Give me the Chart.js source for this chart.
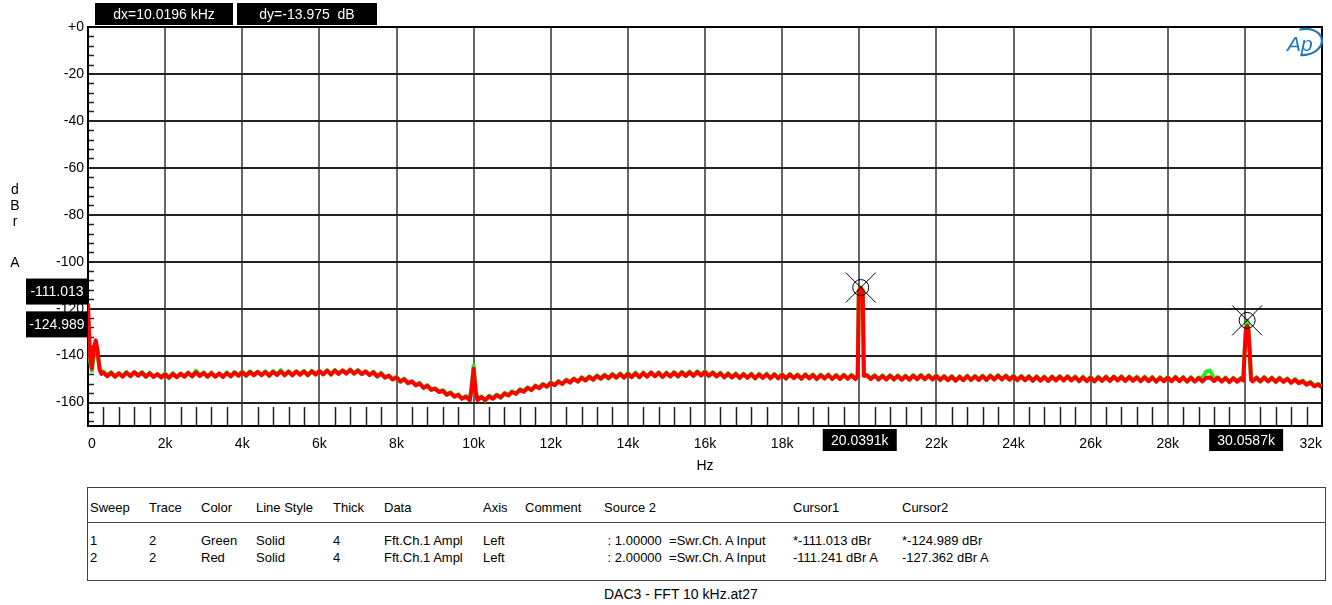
<!DOCTYPE html>
<html lang="en">
<head>
<meta charset="UTF-8" />
<title>DAC3 - FFT 10 kHz.at27</title>
<script src="https://cdn.jsdelivr.net/npm/chart.js"></script>
<style>
  body { margin: 0; background: #fff; font-family: Arial, "Liberation Sans", sans-serif; }
  #wrap { position: absolute; left: 0; top: 0; width: 1332px; height: 480px; }
  #legendBox { position: absolute; left: 87px; top: 487px; width: 1239px; height: 94px;
               border: 1px solid #444; box-sizing: border-box; }
  #legendBox .sep { position: absolute; left: 0; right: 0; top: 34px; border-top: 1px solid #444; }
  .cell { position: absolute; font-size: 13px; line-height: 15px; color: #000; white-space: pre; }
  #caption { position: absolute; left: 604px; top: 586px; font-size: 14px; line-height: 16px; white-space: pre; }
</style>
</head>
<body>

<div id="wrap"><canvas id="fftChart"></canvas></div>
<div id="legendBox"><div class="sep"></div></div>
<div id="caption">DAC3 - FFT 10 kHz.at27</div>

<script>
// frequency of each point (Hz)
const freqHz = [
  0, 50, 100, 150, 200, 250, 300, 350, 400, 500,
  600, 700, 800, 900, 1000, 1100, 1200, 1300, 1400, 1500,
  1600, 1700, 1800, 1900, 2000, 2100, 2200, 2300, 2400, 2500,
  2600, 2700, 2800, 2900, 3000, 3100, 3200, 3300, 3400, 3500,
  3600, 3700, 3800, 3900, 4000, 4100, 4200, 4300, 4400, 4500,
  4600, 4700, 4800, 4900, 5000, 5100, 5200, 5300, 5400, 5500,
  5600, 5700, 5800, 5900, 6000, 6100, 6200, 6300, 6400, 6500,
  6600, 6700, 6800, 6900, 7000, 7100, 7200, 7300, 7400, 7500,
  7600, 7700, 7800, 7900, 8000, 8100, 8200, 8300, 8400, 8500,
  8600, 8700, 8800, 8900, 9000, 9100, 9200, 9300, 9400, 9500,
  9600, 9700, 9800, 9900, 9950, 10000, 10050, 10100, 10200, 10300,
  10400, 10500, 10600, 10700, 10800, 10900, 11000, 11100, 11200, 11300,
  11400, 11500, 11600, 11700, 11800, 11900, 12000, 12100, 12200, 12300,
  12400, 12500, 12600, 12700, 12800, 12900, 13000, 13100, 13200, 13300,
  13400, 13500, 13600, 13700, 13800, 13900, 14000, 14100, 14200, 14300,
  14400, 14500, 14600, 14700, 14800, 14900, 15000, 15100, 15200, 15300,
  15400, 15500, 15600, 15700, 15800, 15900, 16000, 16100, 16200, 16300,
  16400, 16500, 16600, 16700, 16800, 16900, 17000, 17100, 17200, 17300,
  17400, 17500, 17600, 17700, 17800, 17900, 18000, 18100, 18200, 18300,
  18400, 18500, 18600, 18700, 18800, 18900, 19000, 19100, 19200, 19300,
  19400, 19500, 19600, 19700, 19800, 19900, 19960, 19990, 20039, 20090,
  20120, 20200, 20300, 20400, 20500, 20600, 20700, 20800, 20900, 21000,
  21100, 21200, 21300, 21400, 21500, 21600, 21700, 21800, 21900, 22000,
  22100, 22200, 22300, 22400, 22500, 22600, 22700, 22800, 22900, 23000,
  23100, 23200, 23300, 23400, 23500, 23600, 23700, 23800, 23900, 24000,
  24100, 24200, 24300, 24400, 24500, 24600, 24700, 24800, 24900, 25000,
  25100, 25200, 25300, 25400, 25500, 25600, 25700, 25800, 25900, 26000,
  26100, 26200, 26300, 26400, 26500, 26600, 26700, 26800, 26900, 27000,
  27100, 27200, 27300, 27400, 27500, 27600, 27700, 27800, 27900, 28000,
  28100, 28200, 28300, 28400, 28500, 28600, 28700, 28800, 28900, 29000,
  29100, 29200, 29300, 29400, 29500, 29600, 29700, 29800, 29900, 29960,
  29990, 30030, 30059, 30090, 30130, 30160, 30200, 30300, 30400, 30500,
  30600, 30700, 30800, 30900, 31000, 31100, 31200, 31300, 31400, 31500,
  31600, 31700, 31800, 31900, 32000
];

// sweep 1, green trace (dBr)
const sweep1Green = [
  -124.5, -142.0, -146.5, -140.0, -135.5, -140.0, -145.0, -146.5, -146.8, -148.5,
  -147.0, -149.1, -147.5, -148.6, -147.0, -148.9, -147.3, -148.2, -147.0, -149.1,
  -147.3, -148.8, -148.2, -149.0, -147.7, -149.6, -147.5, -148.9, -147.9, -148.7,
  -147.2, -149.0, -146.4, -148.4, -147.1, -149.1, -147.2, -148.7, -147.8, -148.8,
  -147.2, -149.0, -147.0, -148.3, -146.8, -148.7, -146.7, -148.1, -147.1, -148.1,
  -146.7, -148.7, -146.6, -148.0, -146.2, -148.5, -146.6, -148.1, -146.9, -147.9,
  -146.5, -148.5, -146.4, -147.8, -146.8, -147.7, -146.2, -148.2, -146.1, -147.5,
  -146.5, -147.4, -145.9, -147.8, -146.1, -147.6, -146.9, -148.0, -146.8, -149.0,
  -147.4, -149.1, -148.7, -149.9, -149.0, -151.2, -149.8, -151.5, -151.2, -152.4,
  -151.6, -153.9, -152.6, -154.3, -154.2, -155.2, -154.7, -156.8, -155.6, -157.2,
  -156.5, -158.5, -157.2, -158.8, -153.0, -144.2, -154.0, -158.7, -157.4, -159.2,
  -157.1, -158.1, -156.6, -158.0, -155.9, -156.7, -155.2, -156.4, -154.3, -155.1,
  -153.5, -154.8, -152.7, -153.6, -152.0, -153.4, -151.4, -152.3, -150.8, -152.2,
  -150.2, -151.2, -149.7, -151.2, -149.2, -150.3, -148.8, -150.4, -148.4, -149.6,
  -148.1, -149.8, -147.8, -149.1, -147.6, -149.5, -147.5, -148.9, -147.3, -149.3,
  -147.2, -148.7, -147.4, -148.5, -147.1, -149.2, -147.2, -148.6, -147.0, -149.0,
  -146.9, -148.4, -146.8, -148.8, -146.7, -148.2, -146.7, -148.8, -147.0, -148.6,
  -147.3, -149.4, -147.5, -149.0, -147.6, -149.6, -147.7, -149.2, -147.7, -149.8,
  -147.8, -149.2, -147.7, -149.8, -147.8, -149.4, -147.9, -149.9, -147.8, -149.3,
  -148.0, -150.0, -147.9, -149.4, -148.0, -150.1, -148.1, -149.5, -148.0, -150.1,
  -148.2, -149.7, -148.1, -150.0, -148.2, -149.7, -148.2, -112.2, -111.0, -112.2,
  -148.3, -148.2, -149.7, -148.3, -150.3, -148.4, -149.9, -148.3, -150.3, -148.4,
  -150.0, -148.5, -150.4, -148.3, -149.8, -148.2, -150.2, -148.3, -149.9, -148.4,
  -150.5, -148.6, -150.2, -148.7, -150.8, -148.8, -150.2, -148.5, -150.5, -148.6,
  -150.1, -148.5, -150.5, -148.4, -149.9, -148.3, -150.3, -148.4, -150.0, -148.5,
  -150.6, -148.6, -150.2, -148.7, -150.8, -148.8, -150.4, -148.9, -150.9, -148.8,
  -150.3, -148.7, -150.7, -148.7, -150.3, -148.9, -151.0, -149.0, -150.6, -149.1,
  -151.1, -149.0, -150.5, -148.9, -150.9, -148.8, -150.3, -148.8, -150.9, -148.9,
  -150.4, -149.0, -151.0, -149.0, -150.6, -149.1, -151.2, -149.2, -150.6, -149.1,
  -151.0, -149.0, -150.6, -149.1, -151.2, -149.2, -150.8, -149.3, -149.5, -146.8,
  -146.4, -149.8, -149.2, -150.8, -149.3, -151.4, -149.4, -150.8, -149.5, -150.3,
  -138.5, -127.0, -125.0, -127.0, -138.5, -149.9, -150.7, -149.2, -151.1, -149.1,
  -150.7, -149.3, -151.3, -149.4, -150.9, -149.7, -151.7, -150.0, -151.5, -150.6,
  -152.1, -151.2, -152.8, -152.0, -153.2
];

// sweep 2, red trace (dBr A)
const sweep2Red = [
  -117.8, -140.0, -145.5, -137.0, -133.5, -138.0, -146.0, -147.8, -147.2, -148.8,
  -147.4, -148.9, -147.6, -149.0, -147.3, -148.7, -147.0, -148.6, -147.3, -148.9,
  -147.6, -149.1, -147.9, -149.3, -148.0, -149.4, -147.8, -149.2, -147.7, -149.0,
  -147.4, -148.8, -147.1, -148.7, -147.4, -148.9, -147.5, -149.0, -147.6, -149.1,
  -147.5, -148.8, -147.2, -148.6, -147.1, -148.5, -147.0, -148.4, -146.9, -148.4,
  -147.0, -148.5, -146.9, -148.3, -146.8, -148.3, -146.9, -148.4, -146.7, -148.2,
  -146.8, -148.3, -146.7, -148.1, -146.6, -148.0, -146.5, -148.0, -146.4, -147.8,
  -146.3, -147.7, -146.1, -147.6, -146.4, -147.9, -146.7, -148.3, -147.1, -148.8,
  -147.7, -149.4, -148.5, -150.2, -149.3, -151.0, -150.1, -151.8, -151.0, -152.7,
  -151.9, -153.7, -152.9, -154.6, -154.0, -155.5, -155.0, -156.6, -155.9, -157.5,
  -156.8, -158.3, -157.5, -159.1, -154.0, -145.6, -155.0, -159.0, -157.7, -159.0,
  -157.4, -158.4, -156.9, -157.8, -156.2, -157.0, -155.5, -156.2, -154.6, -155.4,
  -153.8, -154.6, -153.0, -153.9, -152.3, -153.2, -151.7, -152.6, -151.1, -152.0,
  -150.5, -151.5, -150.0, -151.0, -149.5, -150.6, -149.1, -150.2, -148.7, -149.9,
  -148.4, -149.6, -148.1, -149.4, -147.9, -149.3, -147.8, -149.2, -147.6, -149.1,
  -147.5, -149.0, -147.2, -148.8, -147.4, -149.0, -147.5, -148.9, -147.3, -148.8,
  -147.2, -148.7, -147.1, -148.6, -147.0, -148.5, -147.0, -148.6, -147.3, -148.9,
  -147.6, -149.2, -147.8, -149.3, -147.9, -149.4, -148.0, -149.5, -148.0, -149.6,
  -148.1, -149.5, -148.0, -149.6, -148.1, -149.7, -148.2, -149.7, -148.1, -149.6,
  -148.3, -149.8, -148.2, -149.7, -148.3, -149.9, -148.4, -149.8, -148.3, -149.9,
  -148.5, -150.0, -148.4, -149.8, -148.5, -150.0, -148.5, -112.5, -111.2, -112.5,
  -148.6, -148.5, -150.0, -148.6, -150.1, -148.7, -150.2, -148.6, -150.1, -148.7,
  -150.3, -148.8, -150.2, -148.6, -150.1, -148.5, -150.0, -148.6, -150.2, -148.7,
  -150.3, -148.9, -150.5, -149.0, -150.6, -149.1, -150.5, -148.8, -150.3, -148.9,
  -150.4, -148.8, -150.3, -148.7, -150.2, -148.6, -150.1, -148.7, -150.3, -148.8,
  -150.4, -148.9, -150.5, -149.0, -150.6, -149.1, -150.7, -149.2, -150.7, -149.1,
  -150.6, -149.0, -150.5, -149.0, -150.6, -149.2, -150.8, -149.3, -150.9, -149.4,
  -150.9, -149.3, -150.8, -149.2, -150.7, -149.1, -150.6, -149.1, -150.7, -149.2,
  -150.7, -149.3, -150.8, -149.3, -150.9, -149.4, -151.0, -149.5, -150.9, -149.4,
  -150.8, -149.3, -150.9, -149.4, -151.0, -149.5, -151.1, -149.6, -151.0, -149.4,
  -149.3, -150.8, -149.5, -151.1, -149.6, -151.2, -149.7, -151.1, -149.8, -150.6,
  -140.0, -129.0, -127.4, -129.0, -140.0, -150.3, -151.0, -149.5, -150.9, -149.4,
  -151.0, -149.6, -151.1, -149.7, -151.2, -150.0, -151.5, -150.3, -151.8, -150.9,
  -152.4, -151.5, -153.1, -152.3, -153.5
];

const xTickValues = [0, 2000, 4000, 6000, 8000, 10000, 12000, 14000, 16000,
                     18000, 20000, 22000, 24000, 26000, 28000, 30000, 32000];
const yTickValues = [0, -20, -40, -60, -80, -100, -120, -140, -160];

// cursors
const cursorHz = [20039.1, 30058.7];
const cursorDb = [-111.013, -124.989];
const cursorHzText = ['20.0391k', '30.0587k'];
const cursorDbText = ['-111.013', '-124.989'];
const deltaText = ['dx=10.0196 kHz', 'dy=-13.975  dB'];

// legend table
const tableHeader = ['Sweep', 'Trace', 'Color', 'Line Style', 'Thick', 'Data', 'Axis', 'Comment', 'Source 2', 'Cursor1', 'Cursor2'];
const tableRows = [
  ['1', '2', 'Green', 'Solid', '4', 'Fft.Ch.1 Ampl', 'Left', '', ' : 1.00000  =Swr.Ch. A Input', '*-111.013 dBr', '*-124.989 dBr'],
  ['2', '2', 'Red', 'Solid', '4', 'Fft.Ch.1 Ampl', 'Left', '', ' : 2.00000  =Swr.Ch. A Input', '-111.241 dBr A', '-127.362 dBr A']
];

const FONT = 'Arial, "Liberation Sans", sans-serif';

// build legend table
const colLeft = [90, 149, 201, 256, 333, 384, 483, 525, 604, 793, 902];
const rowTop = [500, 533, 550];
function addCell(text, left, top) {
  const d = document.createElement('div');
  d.className = 'cell';
  d.style.left = left + 'px';
  d.style.top = top + 'px';
  d.textContent = text;
  document.body.appendChild(d);
}
tableHeader.forEach((t, i) => addCell(t, colLeft[i], rowTop[0]));
tableRows.forEach((row, r) => row.forEach((t, i) => addCell(t, colLeft[i], rowTop[r + 1])));

const decor = {
  id: 'decor',
  beforeDatasetsDraw(chart) {
    const { ctx, chartArea: a, scales: { x, y } } = chart;
    ctx.save();
    // minor ticks
    ctx.strokeStyle = '#222';
    ctx.lineWidth = 1.5;
    ctx.beginPath();
    for (let v = -4; v > -170; v -= 4) {
      if (v % 20 === 0) continue;
      const py = Math.round(y.getPixelForValue(v)) + 0.5;
      ctx.moveTo(a.left, py);
      ctx.lineTo(a.left + 6, py);
    }
    for (let f = 400; f < 32000; f += 400) {
      if (f % 2000 === 0) continue;
      const px = Math.round(x.getPixelForValue(f)) + 0.5;
      ctx.moveTo(px, a.bottom);
      ctx.lineTo(px, a.bottom - 19);
    }
    ctx.stroke();
    // frame
    ctx.strokeStyle = '#000';
    ctx.lineWidth = 2;
    ctx.strokeRect(a.left, a.top, a.right - a.left, a.bottom - a.top);
    ctx.restore();
  },
  afterDraw(chart) {
    const { ctx, chartArea: a, scales: { x, y } } = chart;
    ctx.save();

    // cursor markers
    ctx.strokeStyle = '#000';
    ctx.lineWidth = 1;
    cursorHz.forEach((f, i) => {
      const px = x.getPixelForValue(f);
      const py = y.getPixelForValue(cursorDb[i]);
      ctx.beginPath();
      ctx.arc(px, py, 8, 0, Math.PI * 2);
      ctx.moveTo(px - 15, py - 15); ctx.lineTo(px + 15, py + 15);
      ctx.moveTo(px + 15, py - 15); ctx.lineTo(px - 15, py + 15);
      ctx.stroke();
    });

    function box(cx, cy, w, h, text) {
      ctx.fillStyle = '#000';
      ctx.fillRect(cx - w / 2, cy - h / 2, w, h);
      ctx.fillStyle = '#fff';
      ctx.textAlign = 'center';
      ctx.textBaseline = 'middle';
      ctx.fillText(text, cx, cy + 1);
    }
    ctx.font = '14px ' + FONT;
    cursorHz.forEach((f, i) => {
      box(x.getPixelForValue(f) - 1, a.bottom + 14, 74, 22, cursorHzText[i]);
      box(a.left - 31, y.getPixelForValue(cursorDb[i]) + 4, 62, 26, cursorDbText[i]);
    });
    box(164, 14, 138, 22, deltaText[0]);
    box(307, 14, 140, 22, deltaText[1]);

    // vertical axis title
    ctx.fillStyle = '#000';
    ctx.textAlign = 'center';
    ctx.textBaseline = 'middle';
    [['d', 190], ['B', 206], ['r', 222], ['A', 263]].forEach(([c, ty]) => ctx.fillText(c, 15, ty));

    // Ap logo
    ctx.fillStyle = '#1f78be';
    ctx.strokeStyle = '#1f78be';
    ctx.font = 'italic 21px ' + FONT;
    ctx.textAlign = 'left';
    ctx.textBaseline = 'alphabetic';
    ctx.fillText('Ap', 1287, 51);
    ctx.lineWidth = 2.2;
    ctx.beginPath();
    ctx.ellipse(1304, 42, 18, 13, -0.15, -Math.PI * 0.55, Math.PI * 0.6);
    ctx.stroke();

    ctx.restore();
  }
};

new Chart(document.getElementById('fftChart'), {
  type: 'line',
  data: {
    datasets: [
      {
        label: 'Sweep 1',
        data: freqHz.map((f, i) => ({ x: f, y: sweep1Green[i] })),
        borderColor: '#22ee22',
        borderWidth: 4,
        pointRadius: 0,
        borderJoinStyle: 'round',
        order: 2
      },
      {
        label: 'Sweep 2',
        data: freqHz.map((f, i) => ({ x: f, y: sweep2Red[i] })),
        borderColor: '#ff0000',
        borderWidth: 4,
        pointRadius: 0,
        borderJoinStyle: 'round',
        order: 1
      }
    ]
  },
  options: {
    responsive: true,
    maintainAspectRatio: false,
    animation: false,
    devicePixelRatio: 1,
    layout: { padding: { top: 27, right: 6, left: 0, bottom: 0 } },
    plugins: { legend: { display: false }, tooltip: { enabled: false } },
    scales: {
      x: {
        type: 'linear',
        min: 0,
        max: 32000,
        afterBuildTicks: s => { s.ticks = xTickValues.map(v => ({ value: v })); },
        afterFit: s => { s.height = 54; },
        grid: { color: '#666', lineWidth: 2, drawTicks: false },
        border: { color: '#000', width: 2 },
        ticks: {
          color: '#000', font: { family: FONT, size: 14 }, padding: 10,
          maxRotation: 0, autoSkip: false, align: 'inner',
          callback: v => v === 0 ? '0' : (v / 1000) + 'k'
        },
        title: { display: true, text: 'Hz', color: '#000', font: { family: FONT, size: 14 }, padding: { top: 4, bottom: 5 } }
      },
      y: {
        min: -170,
        max: 0,
        afterBuildTicks: s => { s.ticks = yTickValues.map(v => ({ value: v })); },
        afterFit: s => { s.width = 88; },
        grid: { color: '#222', lineWidth: 2, drawTicks: false },
        border: { color: '#000', width: 2 },
        ticks: {
          color: '#000', font: { family: FONT, size: 14 }, padding: 4,
          callback: v => v === 0 ? '+0' : String(v)
        }
      }
    }
  },
  plugins: [decor]
});
</script>

</body>
</html>
